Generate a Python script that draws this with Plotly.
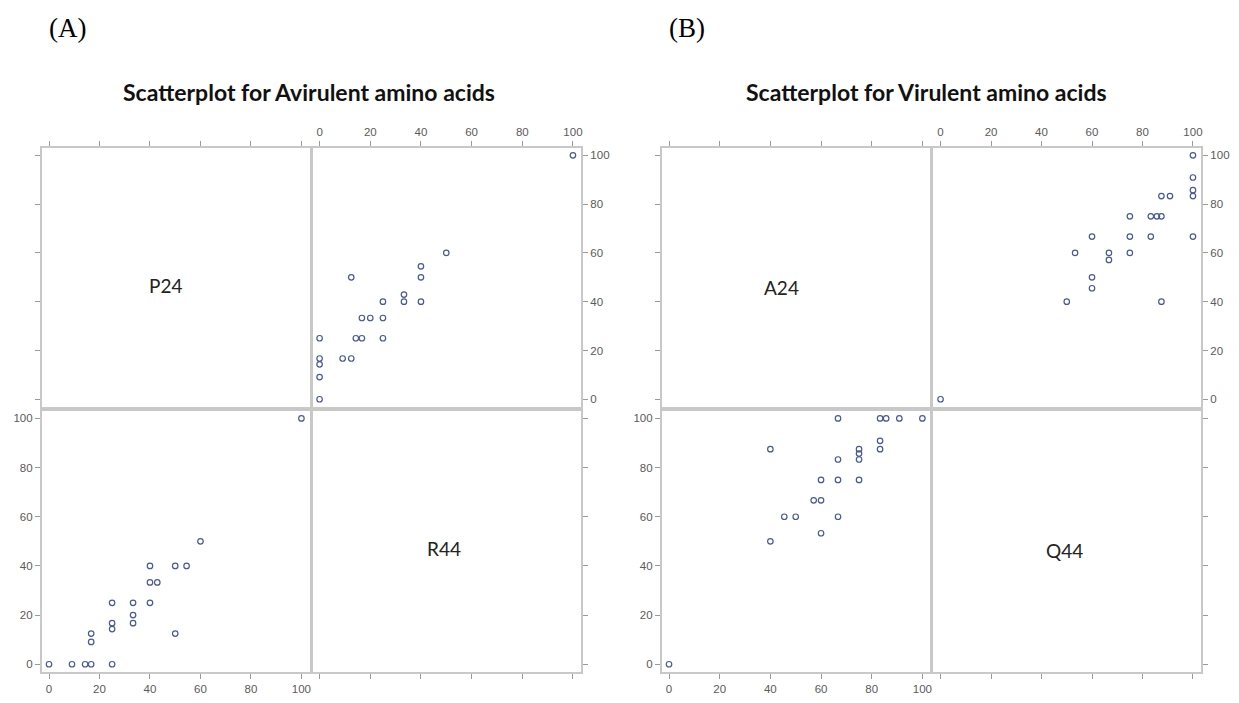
import plotly.graph_objects as go

# ---- Data (A): Avirulent amino acids (P24 vs R44) ----
p24 = [0, 9.1, 14.3, 16.7, 25, 16.7, 16.7, 25, 25, 25, 33.3, 33.3, 33.3,
       40, 40, 42.9, 40, 50, 54.5, 60, 50, 100]
r44 = [0, 0, 0, 0, 0, 9.1, 12.5, 14.3, 16.7, 25, 16.7, 20, 25,
       25, 33.3, 33.3, 40, 40, 40, 50, 12.5, 100]

# ---- Data (B): Virulent amino acids (A24 vs Q44) ----
a24 = [0, 40, 40, 45.5, 50, 57.1, 60, 60, 60, 66.7, 66.7, 66.7, 66.7,
       75, 75, 75, 75, 83.3, 85.7, 83.3, 83.3, 90.9, 100]
q44 = [0, 87.5, 50, 60, 60, 66.7, 66.7, 75, 53.3, 100, 83.3, 75, 60,
       87.5, 85.7, 83.3, 75, 100, 100, 90.9, 87.5, 100, 100]

tick_vals = [0, 20, 40, 60, 80, 100]
tick_text = ["0", "20", "40", "60", "80", "100"]

titles = ["Scatterplot for Avirulent amino acids", "Scatterplot for Virulent amino acids"]
panel_tags = ["(A)", "(B)"]
var_names = [("P24", "R44"), ("A24", "Q44")]

# page is 1239x703, the browser body has an 8px margin
OFF = 8
W, H = 1239 - 2 * OFF, 703 - 2 * OFF

def fx(p):
    return (p - OFF) / W

def fy(p):
    return 1 - (p - OFF) / H

col_x = [[(42, 310), (313, 582)], [(663, 932), (935, 1203)]]
row_y = [(149, 410), (414, 677)]

fig = go.Figure()
layout = {}
MARK = dict(symbol="circle-open", size=5.5, color="#4b5a8e", line=dict(width=1.2))
GRID_LINE = "#c8c8c8"
TICK_COL = "#9a9a9a"
FONT_TICK = dict(family="Liberation Sans, Arial", size=11.5, color="#5a5a5a")
XR = [-2.8, 103.2]
YR = [-3.2, 103]

datasets = [(p24, r44), (a24, q44)]
idx = 0
for g in range(2):
    v1, v2 = datasets[g]
    for r in range(2):
        for c in range(2):
            idx += 1
            xa = "xaxis" if idx == 1 else f"xaxis{idx}"
            ya = "yaxis" if idx == 1 else f"yaxis{idx}"
            xref = "x" if idx == 1 else f"x{idx}"
            yref = "y" if idx == 1 else f"y{idx}"
            show_labels = (r != c)
            xside = "top" if r == 0 else "bottom"
            yside = "left" if c == 0 else "right"
            x0, x1 = col_x[g][c]
            y0, y1 = row_y[r]
            layout[xa] = dict(domain=[fx(x0), fx(x1)], range=XR, anchor=yref,
                              side=xside, showgrid=False, zeroline=False,
                              showline=True, mirror=True, linecolor=GRID_LINE, linewidth=2,
                              ticks="outside", ticklen=5, tickcolor=TICK_COL, tickwidth=1,
                              tickvals=tick_vals, ticktext=tick_text,
                              showticklabels=show_labels, tickfont=FONT_TICK)
            layout[ya] = dict(domain=[fy(y1), fy(y0)], range=YR, anchor=xref,
                              side=yside, showgrid=False, zeroline=False,
                              showline=True, mirror=True, linecolor=GRID_LINE, linewidth=2,
                              ticks="outside", ticklen=5, tickcolor=TICK_COL, tickwidth=1,
                              tickvals=tick_vals, ticktext=tick_text,
                              showticklabels=show_labels, tickfont=FONT_TICK)
            if r == 0 and c == 1:
                fig.add_trace(go.Scatter(x=v2, y=v1, mode="markers", marker=MARK,
                                         xaxis=xref, yaxis=yref, showlegend=False))
            elif r == 1 and c == 0:
                fig.add_trace(go.Scatter(x=v1, y=v2, mode="markers", marker=MARK,
                                         xaxis=xref, yaxis=yref, showlegend=False))
            else:
                fig.add_trace(go.Scatter(x=[], y=[], mode="markers",
                                         xaxis=xref, yaxis=yref, showlegend=False))

annotations = []
label_pos = [[(166, 288), (445, 552)], [(783, 290), (1066, 554)]]
title_pos = [(309, 93), (928, 93)]
tag_pos = [(68, 28), (688, 28)]
for g in range(2):
    for k in range(2):
        lx, ly = label_pos[g][k]
        annotations.append(dict(x=fx(lx), y=fy(ly), xref="paper", yref="paper",
                                xanchor="center", yanchor="middle",
                                text=var_names[g][k], showarrow=False,
                                font=dict(family="Lato, Liberation Sans", size=19, color="#222222")))
    tx, ty = title_pos[g]
    annotations.append(dict(x=fx(tx), y=fy(ty), xref="paper", yref="paper",
                            xanchor="center", yanchor="middle",
                            text="<b>" + titles[g] + "</b>", showarrow=False,
                            font=dict(family="Lato, Liberation Sans", size=23, color="#111111")))
    ax_, ay_ = tag_pos[g]
    annotations.append(dict(x=fx(ax_), y=fy(ay_), xref="paper", yref="paper",
                            xanchor="center", yanchor="middle",
                            text=panel_tags[g], showarrow=False,
                            font=dict(family="Liberation Serif, Times New Roman", size=27, color="#000000")))

fig.update_layout(width=W, height=H, margin=dict(l=0, r=0, t=0, b=0),
                  plot_bgcolor="white", paper_bgcolor="white",
                  annotations=annotations, **layout)

fig.write_html("out.html")
